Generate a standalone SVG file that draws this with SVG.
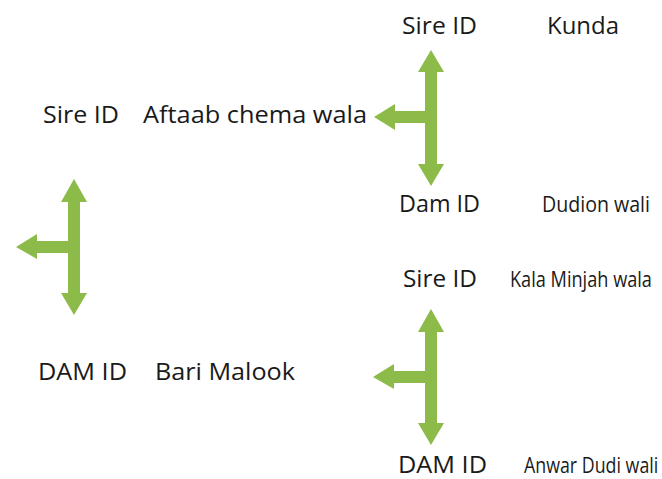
<svg xmlns="http://www.w3.org/2000/svg" width="662" height="479" viewBox="0 0 662 479">
<style>
text{font-family:"Open Sans","Noto Sans","Liberation Sans",sans-serif;font-size:23px;fill:#1a1a1a}
.n{font-size:21px}
.arrow{fill:#8DBB4A}
</style>
<rect width="662" height="479" fill="#fff"/>
<g id="connectors">
<path class="arrow" d="M74,179 L87,202 L80,202 L80,293 L87,293 L74,315 L61,293 L68,293 L68,253 L37,253 L37,259 L16,247 L37,234 L37,241 L68,241 L68,202 L61,202 Z"/>
<path class="arrow" d="M431,50 L444,72 L437,72 L437,164 L444,164 L431,186 L418,164 L425,164 L425,123 L395,123 L395,130 L374,117 L395,104 L395,111 L425,111 L425,72 L418,72 Z"/>
<path class="arrow" d="M431,309 L444,332 L437,332 L437,423 L444,423 L431,445 L418,423 L425,423 L425,383 L394,383 L394,389 L373,377 L394,364 L394,371 L425,371 L425,332 L418,332 Z"/>
</g>
<g id="root-sire"><text x="43" y="123" textLength="76" lengthAdjust="spacingAndGlyphs">Sire ID</text><text x="143" y="123" textLength="224" lengthAdjust="spacingAndGlyphs">Aftaab chema wala</text></g>
<g id="root-dam"><text x="38" y="380" textLength="89" lengthAdjust="spacingAndGlyphs">DAM ID</text><text x="155" y="380" textLength="140" lengthAdjust="spacingAndGlyphs">Bari Malook</text></g>
<g id="sire-sire"><text x="402" y="34" textLength="75" lengthAdjust="spacingAndGlyphs">Sire ID</text><text x="547" y="34" textLength="72" lengthAdjust="spacingAndGlyphs">Kunda</text></g>
<g id="sire-dam"><text x="399" y="212" textLength="81" lengthAdjust="spacingAndGlyphs">Dam ID</text><text class="n" transform="translate(542,212) scale(0.85,1)" textLength="127" lengthAdjust="spacingAndGlyphs">Dudion wali</text></g>
<g id="dam-sire"><text x="403" y="287" textLength="74" lengthAdjust="spacingAndGlyphs">Sire ID</text><text class="n" transform="translate(510,287) scale(0.85,1)" textLength="167" lengthAdjust="spacingAndGlyphs">Kala Minjah wala</text></g>
<g id="dam-dam"><text x="398" y="473" textLength="89" lengthAdjust="spacingAndGlyphs">DAM ID</text><text class="n" transform="translate(524,473) scale(0.85,1)" textLength="158" lengthAdjust="spacingAndGlyphs">Anwar Dudi wali</text></g>
</svg>
